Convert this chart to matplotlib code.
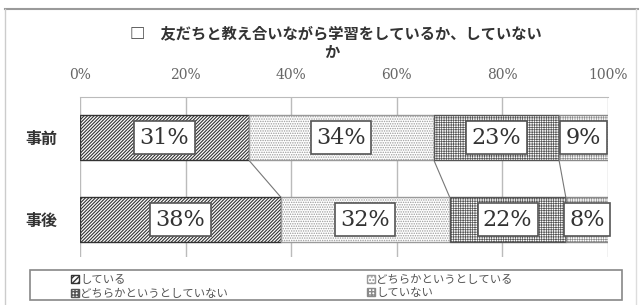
import matplotlib
matplotlib.use("Agg")
import matplotlib.pyplot as plt
from matplotlib.patches import Patch, Rectangle
from matplotlib.lines import Line2D
import numpy as np

plt.rcParams['font.family'] = ['Noto Sans CJK JP', 'DejaVu Sans']

# ---- data ----
title_line1 = "□　友だちと教え合いながら学習をしているか、していない"
title_line2 = "か"
categories = ["事前", "事後"]
series_names = ["している", "どちらかというとしている",
                "どちらかというとしていない", "していない"]
pre_values = [31, 34, 23, 9]
post_values = [38, 32, 22, 8]
tick_values = [0, 20, 40, 60, 80, 100]
tick_labels = ["0%", "20%", "40%", "60%", "80%", "100%"]

# ---- styles ----
hatches = ['/' * 10, '.' * 7, '+' * 7, '+' * 7]
leg_hatches = ['/' * 6, '.' * 5, '+' * 5, '+' * 5]
hatch_colors = ['#333333', '#9a9a9a', '#555555', '#8a8a8a']
hatch_lws = [0.8, 0.7, 0.5, 0.45]

W, H = 640, 305
fig = plt.figure(figsize=(W / 100, H / 100), dpi=100)

def fx(px):
    return px / W

def fy(py):
    return 1 - py / H

# outer frame
fig.add_artist(Line2D([fx(5), fx(638)], [fy(9), fy(9)], color='#9a9a9a', lw=1.5))
fig.add_artist(Line2D([fx(5), fx(5)], [fy(9), fy(305)], color='#cccccc', lw=1))
fig.add_artist(Line2D([fx(636), fx(636)], [fy(9), fy(305)], color='#dddddd', lw=1))

ax_l, ax_r, ax_t, ax_b = 80, 608, 97, 257
ax = fig.add_axes([fx(ax_l), fy(ax_b), fx(ax_r - ax_l), (ax_b - ax_t) / H])

data = np.array([pre_values, post_values], dtype=float)
shares = data / data.sum(axis=1, keepdims=True) * 100
ypos = np.arange(len(categories))
bar_h = 0.55

lefts = np.zeros(len(categories))
for i in range(len(series_names)):
    with plt.rc_context({'hatch.linewidth': hatch_lws[i]}):
        ax.barh(ypos, shares[:, i], left=lefts, height=bar_h,
                color='white', edgecolor=hatch_colors[i], hatch=hatches[i],
                linewidth=1.0, zorder=2)
    for j in range(len(categories)):
        ax.text(lefts[j] + shares[j, i] / 2, ypos[j], f"{int(data[j, i])}%",
                ha='center', va='center', family='DejaVu Serif', fontsize=16,
                color='#333333', zorder=5,
                bbox=dict(boxstyle='square,pad=0.24', fc='white',
                          ec='#555555', lw=1.2))
    lefts = lefts + shares[:, i]

# connecting lines between the two bars
cum = np.cumsum(shares, axis=1)
for i in range(len(series_names) - 1):
    ax.plot([cum[0, i], cum[1, i]], [ypos[0] + bar_h / 2, ypos[1] - bar_h / 2],
            color='#777777', lw=0.8, zorder=1)

ax.set_xlim(0, 100)
ax.set_ylim(1 + 0.457, -0.494)
ax.set_xticks(tick_values)
ax.set_xticklabels(tick_labels, family='DejaVu Serif', fontsize=10, color='#666666')
ax.xaxis.tick_top()
ax.tick_params(axis='x', length=0, pad=11)
ax.set_yticks(ypos)
ax.set_yticklabels(categories, fontsize=11.5, fontweight='bold', color='#333333')
ax.tick_params(axis='y', length=0, pad=16)
ax.grid(axis='x', color='#bbbbbb', lw=1, zorder=0)
ax.set_axisbelow(True)
for s in ['left', 'right', 'bottom']:
    ax.spines[s].set_visible(False)
ax.spines['top'].set_color('#bbbbbb')

# title
fig.text(fx(336), fy(33), title_line1, ha='center', va='center', fontsize=11,
         fontweight='bold', color='#333333')
fig.text(fx(332), fy(52), title_line2, ha='center', va='center', fontsize=11,
         fontweight='bold', color='#333333')

# legend
fig.add_artist(Rectangle((fx(30), fy(300)), fx(592), (300 - 270) / H,
                         fill=False, ec='#888888', lw=1.2))
order = [0, 2, 1, 3]
handles = []
for i in order:
    with plt.rc_context({'hatch.linewidth': hatch_lws[i]}):
        handles.append(Patch(facecolor='white', edgecolor=hatch_colors[i],
                             hatch=leg_hatches[i], label=series_names[i]))
leg = fig.legend(handles=handles, labels=[series_names[i] for i in order],
                 ncol=2, frameon=False, loc='upper left',
                 bbox_to_anchor=(fx(64), fy(268)), fontsize=8.2,
                 handlelength=0.7, handleheight=0.7, handletextpad=0.1,
                 columnspacing=12.2, labelspacing=0.3, borderpad=0.1,
                 labelcolor='#555555')

fig.savefig("out.png", dpi=100)
